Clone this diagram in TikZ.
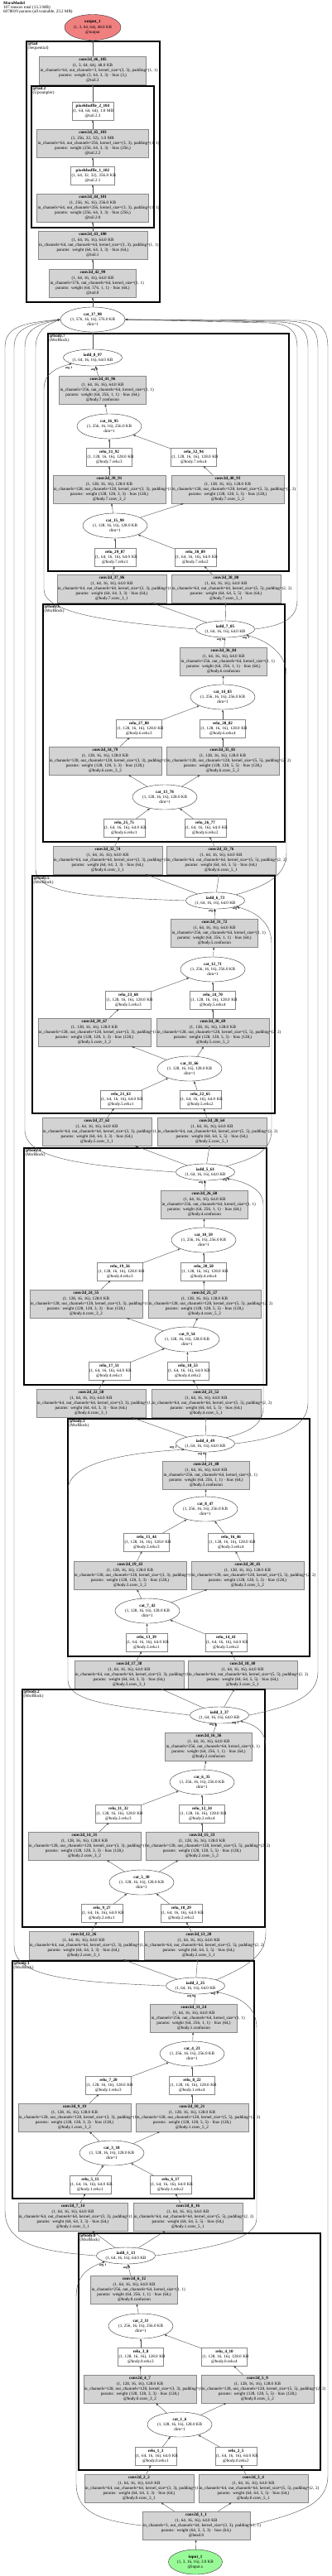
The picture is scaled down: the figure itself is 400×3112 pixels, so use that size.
\documentclass[tikz,border=0pt]{standalone}
\usepackage{fontspec}
\setmainfont{Liberation Serif}
\usepackage{tikz}
\usetikzlibrary{arrows.meta,shapes.geometric}
\definecolor{LayerFill}{HTML}{D3D3D3}
\definecolor{LayerLine}{HTML}{888888}
\definecolor{OutFill}{HTML}{F08080}
\definecolor{InFill}{HTML}{98FB98}
\definecolor{WireGray}{HTML}{4D4D4D}

% labels of the layers that repeat in every MsrBlock
\newcommand{\cvA}[3]{\textbf{conv2d\_#1\_#2}\\(1, 64, 16, 16), 64.0 KB\\\mbox{in\_channels=64, out\_channels=64, kernel\_size=(3, 3), padding=(1, 1)}\\\mbox{params: weight (64, 64, 3, 3) · bias (64,)}\\@body.#3.conv\_3\_1}
\newcommand{\cvB}[3]{\textbf{conv2d\_#1\_#2}\\(1, 64, 16, 16), 64.0 KB\\\mbox{in\_channels=64, out\_channels=64, kernel\_size=(5, 5), padding=(2, 2)}\\\mbox{params: weight (64, 64, 5, 5) · bias (64,)}\\@body.#3.conv\_5\_1}
\newcommand{\cvC}[3]{\textbf{conv2d\_#1\_#2}\\(1, 128, 16, 16), 128.0 KB\\\mbox{in\_channels=128, out\_channels=128, kernel\_size=(3, 3), padding=(1, 1)}\\\mbox{params: weight (128, 128, 3, 3) · bias (128,)}\\@body.#3.conv\_3\_2}
\newcommand{\cvD}[3]{\textbf{conv2d\_#1\_#2}\\(1, 128, 16, 16), 128.0 KB\\\mbox{in\_channels=128, out\_channels=128, kernel\_size=(5, 5), padding=(2, 2)}\\\mbox{params: weight (128, 128, 5, 5) · bias (128,)}\\@body.#3.conv\_5\_2}
\newcommand{\cvE}[3]{\textbf{conv2d\_#1\_#2}\\(1, 64, 16, 16), 64.0 KB\\\mbox{in\_channels=256, out\_channels=64, kernel\_size=(1, 1)}\\\mbox{params: weight (64, 256, 1, 1) · bias (64,)}\\@body.#3.confusion}
\newcommand{\ruA}[4]{\textbf{relu\_#1\_#2}\\\mbox{(1, 64, 16, 16), 64.0 KB}\\@body.#3.relu:#4}
\newcommand{\ruB}[4]{\textbf{relu\_#1\_#2}\\\mbox{(1, 128, 16, 16), 128.0 KB}\\@body.#3.relu:#4}
\newcommand{\ctA}[2]{\textbf{cat\_#1\_#2}\\(1, 128, 16, 16), 128.0 KB\\dim=1}
\newcommand{\ctB}[2]{\textbf{cat\_#1\_#2}\\(1, 256, 16, 16), 256.0 KB\\dim=1}
\newcommand{\adT}[2]{\textbf{iadd\_#1\_#2}\\(1, 64, 16, 16), 64.0 KB}

\begin{document}
\begin{tikzpicture}[x=1pt,y=-1pt,font=\fontsize{5.1}{6.2}\selectfont,
  layerbox/.style={rectangle,draw=LayerLine,fill=LayerFill,line width=0.4pt,align=center,inner xsep=1pt,inner ysep=0pt,minimum height=34pt},
  funcbox/.style={rectangle,draw=LayerLine,fill=white,line width=0.4pt,align=center,inner xsep=1pt,inner ysep=0pt,minimum height=21.5pt},
  funcop/.style={ellipse,draw=black!80,fill=white,line width=0.4pt,align=center,inner sep=0pt,minimum width=78pt,minimum height=30pt},
  addop/.style={funcop,minimum width=71pt,minimum height=20pt},
  w64/.style={text width=130.5pt},w128/.style={text width=134.5pt},w1x1/.style={text width=103pt},
  r64/.style={text width=48pt},r128/.style={text width=53pt},
  group/.style={draw=black,line width=1.8pt},
  grouplbl/.style={anchor=north west,align=left,inner sep=0pt,font=\fontsize{5.1}{5.2}\selectfont},
  flow/.style={draw=WireGray,line width=0.4pt,-{Triangle[length=3pt,width=2.2pt]}},
  arglbl/.style={inner sep=0pt,font=\fontsize{3.8}{4}\selectfont\bfseries}]
  \useasboundingbox (0,0) rectangle (400,3112);

  \node[anchor=north west,align=left,inner sep=0pt,font=\fontsize{5.1}{4.9}\selectfont] (title) at (4,2)
    {\textbf{MsrnModel}\\107 tensors total (13.3 MB)\\6078019 params (all trainable, 23.2 MB)};

  % output and tail
  \node[funcop,fill=OutFill,minimum width=68pt,minimum height=31pt] (out) at (112,33) {\textbf{output\_1}\\(1, 3, 64, 64), 48.0 KB\\@output};
  \draw[group] (32,50) rectangle (193,365);
  \node[grouplbl] (tailLbl) at (33.5,51) {\textbf{@tail}\\(Sequential)};
  \node[layerbox,text width=127pt] (cv46) at (112,85) {\textbf{conv2d\_46\_105}\\(1, 3, 64, 64), 48.0 KB\\\mbox{in\_channels=64, out\_channels=3, kernel\_size=(3, 3), padding=(1, 1)}\\\mbox{params: weight (3, 64, 3, 3) · bias (3,)}\\@tail.3};
  \draw[group,line width=1.3pt] (38,104) rectangle (186,275);
  \node[grouplbl] (tail2Lbl) at (39.5,105) {\textbf{@tail.2}\\(Upsampler)};
  \node[funcbox,text width=48pt] (ps2) at (112,134) {\textbf{pixelshuffle\_2\_104}\\\mbox{(1, 64, 64, 64), 1.0 MB}\\@tail.2.3};
  \node[layerbox,text width=133pt] (cv45) at (112,173) {\textbf{conv2d\_45\_103}\\(1, 256, 32, 32), 1.0 MB\\\mbox{in\_channels=64, out\_channels=256, kernel\_size=(3, 3), padding=(1, 1)}\\\mbox{params: weight (256, 64, 3, 3) · bias (256,)}\\@tail.2.2};
  \node[funcbox,text width=51pt] (ps1) at (112,212) {\textbf{pixelshuffle\_1\_102}\\\mbox{(1, 64, 32, 32), 256.0 KB}\\@tail.2.1};
  \node[layerbox,text width=133pt] (cv44) at (112,251) {\textbf{conv2d\_44\_101}\\(1, 256, 16, 16), 256.0 KB\\\mbox{in\_channels=64, out\_channels=256, kernel\_size=(3, 3), padding=(1, 1)}\\\mbox{params: weight (256, 64, 3, 3) · bias (256,)}\\@tail.2.0};
  \node[layerbox,text width=130pt] (cv43) at (112,296) {\textbf{conv2d\_43\_100}\\(1, 64, 16, 16), 64.0 KB\\\mbox{in\_channels=64, out\_channels=64, kernel\_size=(3, 3), padding=(1, 1)}\\\mbox{params: weight (64, 64, 3, 3) · bias (64,)}\\@tail.1};
  \node[layerbox,w1x1] (cv42) at (112,342) {\textbf{conv2d\_42\_99}\\(1, 64, 16, 16), 64.0 KB\\\mbox{in\_channels=576, out\_channels=64, kernel\_size=(1, 1)}\\\mbox{params: weight (64, 576, 1, 1) · bias (64,)}\\@tail.0};
  \node[funcop] (ct17) at (112,386) {\textbf{cat\_17\_98}\\(1, 576, 16, 16), 576.0 KB\\dim=1};

  % body.7
  \draw[group] (58,403) rectangle (349,690);
  \node[grouplbl] (b7Lbl) at (59.5,404) {\textbf{@body.7}\\(MsrBlock)};
  \node[addop] (ad8) at (112,432) {\adT{8}{97}};
  \node[layerbox,w1x1] (cv41) at (124,471) {\cvE{41}{96}{7}};
  \node[funcop] (ct16) at (132,515) {\ctB{16}{95}};
  \node[funcbox,r128] (ru31) at (132,552) {\ruB{31}{92}{7}{3}};
  \node[funcbox,r128] (ru32) at (234,552) {\ruB{32}{94}{7}{4}};
  \node[layerbox,w128] (cv39) at (132,591) {\cvC{39}{91}{7}};
  \node[layerbox,w128] (cv40) at (275,591) {\cvD{40}{93}{7}};
  \node[funcop] (ct15) at (139,635) {\ctA{15}{90}};
  \node[funcbox,r64] (ru29) at (139,673) {\ruA{29}{87}{7}{1}};
  \node[funcbox,r64] (ru30) at (236,673) {\ruA{30}{89}{7}{2}};
  \node[layerbox,w64] (cv37) at (135,711) {\cvA{37}{86}{7}};
  \node[layerbox,w64] (cv38) at (273,711) {\cvB{38}{88}{7}};

  % body.6
  \draw[group] (52,730) rectangle (344,1017);
  \node[grouplbl] (b6Lbl) at (53.5,731) {\textbf{@body.6}\\(MsrBlock)};
  \node[addop] (ad7) at (272,760) {\adT{7}{85}};
  \node[layerbox,w1x1] (cv36) at (270,799) {\cvE{36}{84}{6}};
  \node[funcop] (ct14) at (269,842) {\ctB{14}{83}};
  \node[funcbox,r128] (ru27) at (168,880) {\ruB{27}{80}{6}{3}};
  \node[funcbox,r128] (ru28) at (269,880) {\ruB{28}{82}{6}{4}};
  \node[layerbox,w128] (cv34) at (127,919) {\cvC{34}{79}{6}};
  \node[layerbox,w128] (cv35) at (269,919) {\cvD{35}{81}{6}};
  \node[funcop] (ct13) at (199,963) {\ctA{13}{78}};
  \node[funcbox,r64] (ru25) at (150,1000) {\ruA{25}{75}{6}{1}};
  \node[funcbox,r64] (ru26) at (248,1000) {\ruA{26}{77}{6}{2}};
  \node[layerbox,w64] (cv32) at (130,1039) {\cvA{32}{74}{6}};
  \node[layerbox,w64] (cv33) at (267,1039) {\cvB{33}{76}{6}};

  % body.5
  \draw[group] (39,1058) rectangle (332,1345);
  \node[grouplbl] (b5Lbl) at (40.5,1059) {\textbf{@body.5}\\(MsrBlock)};
  \node[addop] (ad6) at (260,1088) {\adT{6}{73}};
  \node[layerbox,w1x1] (cv31) at (259,1127) {\cvE{31}{72}{5}};
  \node[funcop] (ct12) at (257,1171) {\ctB{12}{71}};
  \node[funcbox,r128] (ru23) at (155,1208) {\ruB{23}{68}{5}{3}};
  \node[funcbox,r128] (ru24) at (257,1208) {\ruB{24}{70}{5}{4}};
  \node[layerbox,w128] (cv29) at (114,1247) {\cvC{29}{67}{5}};
  \node[layerbox,w128] (cv30) at (257,1247) {\cvD{30}{69}{5}};
  \node[funcop] (ct11) at (229,1291) {\ctA{11}{66}};
  \node[funcbox,r64] (ru21) at (146,1328) {\ruA{21}{63}{5}{1}};
  \node[funcbox,r64] (ru22) at (242,1328) {\ruA{22}{65}{5}{2}};
  \node[layerbox,w64] (cv27) at (117,1367) {\cvA{27}{62}{5}};
  \node[layerbox,w64] (cv28) at (256,1367) {\cvB{28}{64}{5}};

  % body.4
  \draw[group] (29,1387) rectangle (322,1673);
  \node[grouplbl] (b4Lbl) at (30.5,1388) {\textbf{@body.4}\\(MsrBlock)};
  \node[addop] (ad5) at (248,1416) {\adT{5}{61}};
  \node[layerbox,w1x1] (cv26) at (247,1455) {\cvE{26}{60}{4}};
  \node[funcop] (ct10) at (246,1498) {\ctB{10}{59}};
  \node[funcbox,r128] (ru19) at (145,1536) {\ruB{19}{56}{4}{3}};
  \node[funcbox,r128] (ru20) at (246,1536) {\ruB{20}{58}{4}{4}};
  \node[layerbox,w128] (cv24) at (104,1575) {\cvC{24}{55}{4}};
  \node[layerbox,w128] (cv25) at (247,1575) {\cvD{25}{57}{4}};
  \node[funcop] (ct9) at (226,1618) {\ctA{9}{54}};
  \node[funcbox,r64] (ru17) at (132,1656) {\ruA{17}{51}{4}{1}};
  \node[funcbox,r64] (ru18) at (227,1656) {\ruA{18}{53}{4}{2}};
  \node[layerbox,w64] (cv22) at (110,1695) {\cvA{22}{50}{4}};
  \node[layerbox,w64] (cv23) at (249,1695) {\cvB{23}{52}{4}};

  % body.3
  \draw[group] (82,1714) rectangle (374,2001);
  \node[grouplbl] (b3Lbl) at (83.5,1715) {\textbf{@body.3}\\(MsrBlock)};
  \node[addop] (ad4) at (248,1744) {\adT{4}{49}};
  \node[layerbox,w1x1] (cv21) at (249,1782) {\cvE{21}{48}{3}};
  \node[funcop] (ct8) at (248,1823) {\ctB{8}{47}};
  \node[funcbox,r128] (ru15) at (177,1863) {\ruB{15}{44}{3}{3}};
  \node[funcbox,r128] (ru16) at (279,1863) {\ruB{16}{46}{3}{4}};
  \node[layerbox,w128] (cv19) at (157,1903) {\cvC{19}{43}{3}};
  \node[layerbox,w128] (cv20) at (299,1903) {\cvD{20}{45}{3}};
  \node[funcop] (ct7) at (178,1946) {\ctA{7}{42}};
  \node[funcbox,r64] (ru13) at (177,1984) {\ruA{13}{39}{3}{1}};
  \node[funcbox,r64] (ru14) at (273,1984) {\ruA{14}{41}{3}{2}};
  \node[layerbox,w64] (cv17) at (156,2023) {\cvA{17}{38}{3}};
  \node[layerbox,w64] (cv18) at (293,2023) {\cvB{18}{40}{3}};

  % body.2
  \draw[group] (27,2041) rectangle (320,2328);
  \node[grouplbl] (b2Lbl) at (28.5,2042) {\textbf{@body.2}\\(MsrBlock)};
  \node[addop] (ad3) at (265,2072) {\adT{3}{37}};
  \node[layerbox,w1x1] (cv16) at (252,2110) {\cvE{16}{36}{2}};
  \node[funcop] (ct6) at (244,2153) {\ctB{6}{35}};
  \node[funcbox,r128] (ru11) at (143,2191) {\ruB{11}{32}{2}{3}};
  \node[funcbox,r128] (ru12) at (244,2191) {\ruB{12}{34}{2}{4}};
  \node[layerbox,w128] (cv14) at (102,2230) {\cvC{14}{31}{2}};
  \node[layerbox,w128] (cv15) at (244,2230) {\cvD{15}{33}{2}};
  \node[funcop] (ct5) at (171,2274) {\ctA{5}{30}};
  \node[funcbox,r64] (ru9) at (123,2311) {\ruA{9}{27}{2}{1}};
  \node[funcbox,r64] (ru10) at (219,2311) {\ruA{10}{29}{2}{2}};
  \node[layerbox,w64] (cv12) at (101,2350) {\cvA{12}{26}{2}};
  \node[layerbox,w64] (cv13) at (240,2350) {\cvB{13}{28}{2}};

  % body.1
  \draw[group] (15,2369) rectangle (307,2656);
  \node[grouplbl] (b1Lbl) at (16.5,2370) {\textbf{@body.1}\\(MsrBlock)};
  \node[addop] (ad2) at (236,2399) {\adT{2}{25}};
  \node[layerbox,w1x1] (cv11) at (234,2438) {\cvE{11}{24}{1}};
  \node[funcop] (ct4) at (232,2481) {\ctB{4}{23}};
  \node[funcbox,r128] (ru7) at (131,2519) {\ruB{7}{20}{1}{3}};
  \node[funcbox,r128] (ru8) at (232,2519) {\ruB{8}{22}{1}{4}};
  \node[layerbox,w128] (cv9) at (90,2558) {\cvC{9}{19}{1}};
  \node[layerbox,w128] (cv10) at (232,2558) {\cvD{10}{21}{1}};
  \node[funcop] (ct3) at (135,2601) {\ctA{3}{18}};
  \node[funcbox,r64] (ru5) at (109,2639) {\ruA{5}{15}{1}{1}};
  \node[funcbox,r64] (ru6) at (206,2639) {\ruA{6}{17}{1}{2}};
  \node[layerbox,w64] (cv7) at (88,2678) {\cvA{7}{14}{1}};
  \node[layerbox,w64] (cv8) at (227,2678) {\cvB{8}{16}{1}};

  % body.0
  \draw[group] (95,2698) rectangle (387,2984);
  \node[grouplbl] (b0Lbl) at (96.5,2699) {\textbf{@body.0}\\(MsrBlock)};
  \node[addop] (ad1) at (152,2725) {\adT{1}{13}};
  \node[layerbox,w1x1] (cv6) at (162,2766) {\cvE{6}{12}{0}};
  \node[funcop] (ct2) at (170,2810) {\ctB{2}{11}};
  \node[funcbox,r128] (ru3) at (170,2847) {\ruB{3}{8}{0}{3}};
  \node[funcbox,r128] (ru4) at (271,2847) {\ruB{4}{10}{0}{4}};
  \node[layerbox,w128] (cv4) at (169,2886) {\cvC{4}{7}{0}};
  \node[layerbox,w128] (cv5) at (311,2886) {\cvD{5}{9}{0}};
  \node[funcop] (ct1) at (217,2929) {\ctA{1}{6}};
  \node[funcbox,r64] (ru1) at (188,2967) {\ruA{1}{3}{0}{1}};
  \node[funcbox,r64] (ru2) at (285,2967) {\ruA{2}{5}{0}{2}};
  \node[layerbox,w64] (cv2) at (168,3006) {\cvA{2}{2}{0}};
  \node[layerbox,w64] (cv3) at (306,3006) {\cvB{3}{4}{0}};

  % head and input
  \node[layerbox,text width=128pt] (cv1) at (237,3051) {\textbf{conv2d\_1\_1}\\(1, 64, 16, 16), 64.0 KB\\\mbox{in\_channels=3, out\_channels=64, kernel\_size=(3, 3), padding=(1, 1)}\\\mbox{params: weight (64, 3, 3, 3) · bias (64,)}\\@head.0};
  \node[funcop,fill=InFill,minimum width=65pt] (inp) at (236,3095) {\textbf{input\_1}\\(1, 3, 16, 16), 3.0 KB\\@input.x};

  % edges inside each block
  \foreach \blk in {0,...,7} {
    \pgfmathtruncatemacro\cA{2+5*\blk}
    \pgfmathtruncatemacro\cB{3+5*\blk}
    \pgfmathtruncatemacro\cC{4+5*\blk}
    \pgfmathtruncatemacro\cD{5+5*\blk}
    \pgfmathtruncatemacro\cE{6+5*\blk}
    \pgfmathtruncatemacro\rA{1+4*\blk}
    \pgfmathtruncatemacro\rB{2+4*\blk}
    \pgfmathtruncatemacro\rC{3+4*\blk}
    \pgfmathtruncatemacro\rD{4+4*\blk}
    \pgfmathtruncatemacro\kA{1+2*\blk}
    \pgfmathtruncatemacro\kB{2+2*\blk}
    \pgfmathtruncatemacro\aN{1+\blk}
    \ifnum\blk=0 \def\src{cv1}\else\def\src{ad\blk}\fi
    \draw[flow] (\src) -- (cv\cA);
    \draw[flow] (\src) -- (cv\cB);
    \draw[flow] (cv\cA) -- (ru\rA);
    \draw[flow] (cv\cB) -- (ru\rB);
    \draw[flow] (ru\rA) -- (ct\kA);
    \draw[flow] (ru\rB) -- (ct\kA);
    \draw[flow] (ct\kA) -- (cv\cC);
    \draw[flow] (ct\kA) -- (cv\cD);
    \draw[flow] (cv\cC) -- (ru\rC);
    \draw[flow] (cv\cD) -- (ru\rD);
    \draw[flow] (ru\rC) -- (ct\kB);
    \draw[flow] (ru\rD) -- (ct\kB);
    \draw[flow] (ct\kB) -- (cv\cE);
    \draw[flow] (cv\cE) -- (ad\aN);
  }

  % main chain
  \draw[flow] (inp) -- (cv1);
  \foreach \s/\t in {ad8/ct17,ct17/cv42,cv42/cv43,cv43/cv44,cv44/ps1,ps1/cv45,cv45/ps2,ps2/cv46,cv46/out}
    \draw[flow] (\s) -- (\t);

  % into cat_17_98 from the right
  \draw[flow] (cv1.east) .. controls (365,3035) and (396,3025) .. (396,2990) -- (396,420) .. controls (396,396) and (386,388) .. (361,387) -- (ct17.east);
  \draw[flow] (ad3.east) .. controls (350,2062) and (384,2050) .. (384,2020) -- (384,420) .. controls (384,397) and (374,389) .. (349,388) -- (ct17.east);
  \draw[flow] (ad4.east) .. controls (335,1738) and (372,1725) .. (372,1695) -- (372,420) .. controls (372,398) and (362,390) .. (337,389) -- (ct17.east);
  \draw[flow] (ad7.east) .. controls (340,756) and (359,748) .. (359,725) -- (359,420) .. controls (359,399) and (349,391) .. (324,390) -- (ct17.east);
  % into cat_17_98 from the left
  \draw[flow] (ad1.west) .. controls (50,2720) and (6,2712) .. (6,2670) -- (6,420) .. controls (6,396) and (25,390) .. (ct17.west);
  \draw[flow] (ad2.west) .. controls (80,2394) and (17,2388) .. (17,2350) -- (17,420) .. controls (17,397) and (35,391) .. (ct17.west);
  \draw[flow] (ad5.west) .. controls (100,1408) and (30,1400) .. (30,1365) -- (30,420) .. controls (30,398) and (45,392) .. (ct17.west);
  \draw[flow] (ad6.west) .. controls (110,1084) and (43,1080) .. (43,1050) -- (43,420) .. controls (43,400) and (55,393) .. (ct17.west);

  % skip connections
  \draw[flow] (cv1.west) .. controls (120,3045) and (92,3035) .. (92,3000) -- (92,2775) .. controls (92,2750) and (105,2740) .. (ad1.south west);
  \draw[flow] (ad1.east) .. controls (260,2715) and (310,2705) .. (310,2680) -- (310,2450) .. controls (310,2422) and (287,2412) .. (ad2.south east);
  \draw[flow] (ad2.north east) .. controls (300,2375) and (321,2362) .. (321,2335) -- (321,2110) .. controls (321,2090) and (306,2083) .. (ad3.south east);
  \draw[flow] (ad3.west) .. controls (150,2062) and (82,2058) .. (82,2030) -- (82,1800) .. controls (82,1768) and (150,1755) .. (ad4.south west);
  \draw[flow] (ad4.north east) .. controls (300,1730) and (318,1722) .. (318,1700) -- (318,1455) .. controls (318,1436) and (296,1428) .. (ad5.south east);
  \draw[flow] (ad5.north east) .. controls (305,1400) and (328,1392) .. (328,1365) -- (328,1140) .. controls (328,1112) and (306,1101) .. (ad6.south east);
  \draw[flow] (ad6.north east) .. controls (322,1070) and (346,1058) .. (346,1030) -- (346,815) .. controls (346,788) and (320,773) .. (ad7.south east);
  \draw[flow] (ad7.west) .. controls (140,752) and (53,742) .. (53,712) -- (53,470) .. controls (53,450) and (70,444) .. (ad8.south west);

  % argument labels at the in-place adds
  \node[arglbl] (a8r) at (83,445) {arg 1};   \node[arglbl] (a8c) at (114,447) {arg 0};
  \node[arglbl] (a7c) at (266,773) {arg 0};  \node[arglbl] (a7r) at (297,771) {arg 1};
  \node[arglbl] (a6c) at (256,1101) {arg 0}; \node[arglbl] (a6r) at (285,1098) {arg 1};
  \node[arglbl] (a5c) at (244,1429) {arg 0}; \node[arglbl] (a5r) at (273,1426) {arg 1};
  \node[arglbl] (a4r) at (209,1749) {arg 1}; \node[arglbl] (a4c) at (243,1757) {arg 0};
  \node[arglbl] (a3c) at (257,2084) {arg 0}; \node[arglbl] (a3r) at (284,2082) {arg 1};
  \node[arglbl] (a2c) at (230,2412) {arg 0}; \node[arglbl] (a2r) at (259,2409) {arg 1};
  \node[arglbl] (a1r) at (124,2737) {arg 1}; \node[arglbl] (a1c) at (153,2740) {arg 0};
\end{tikzpicture}
\end{document}
